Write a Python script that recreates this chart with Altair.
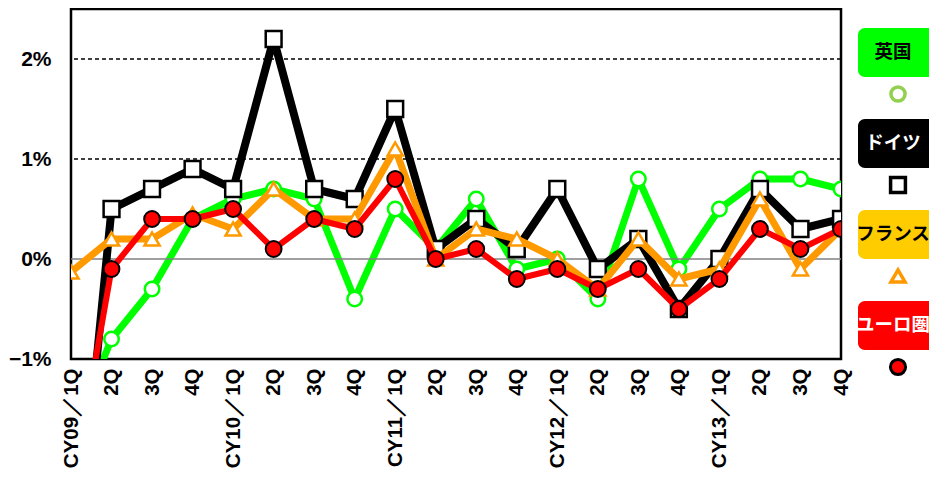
import json
import altair as alt
import pandas as pd

quarters = ["CY09／1Q", "2Q", "3Q", "4Q", "CY10／1Q", "2Q", "3Q", "4Q",
            "CY11／1Q", "2Q", "3Q", "4Q", "CY12／1Q", "2Q", "3Q", "4Q",
            "CY13／1Q", "2Q", "3Q", "4Q"]
uk = [-1.8, -0.8, -0.3, 0.4, 0.6, 0.7, 0.6, -0.4, 0.5, 0.1,
      0.6, -0.1, 0.0, -0.4, 0.8, -0.1, 0.5, 0.8, 0.8, 0.7]
germany = [-3.6, 0.5, 0.7, 0.9, 0.7, 2.2, 0.7, 0.6, 1.5, 0.1,
           0.4, 0.1, 0.7, -0.1, 0.2, -0.5, 0.0, 0.7, 0.3, 0.4]
france = [-0.13, 0.2, 0.2, 0.45, 0.3, 0.7, 0.4, 0.4, 1.1, 0.0,
          0.3, 0.2, 0.0, -0.3, 0.2, -0.2, -0.1, 0.6, -0.1, 0.3]
euro = [-2.4, -0.1, 0.4, 0.4, 0.5, 0.1, 0.4, 0.3, 0.8, 0.0,
        0.1, -0.2, -0.1, -0.3, -0.1, -0.5, -0.2, 0.3, 0.1, 0.3]

series_names = ["英国", "ドイツ", "フランス", "ユーロ圏"]
series_values = [uk, germany, france, euro]
line_colors = ["#00FF00", "#000000", "#FF9900", "#FF0000"]
box_colors = ["#00FF00", "#000000", "#FFCC00", "#FF0000"]
box_text_colors = ["#000000", "#FFFFFF", "#000000", "#FFFFFF"]
y_ticks = [-1, 0, 1, 2]
dashed_grid = [1, 2]
zero_line = [0]

rows = []
for name, vals in zip(series_names, series_values):
    for i, v in enumerate(vals):
        rows.append({"series": name, "idx": i, "value": v})
df = pd.DataFrame(rows)

label_expr = json.dumps(quarters, ensure_ascii=False) + "[datum.value]"
AX_FONT = "Liberation Sans"
x_enc = alt.X("idx:O", scale=alt.Scale(type="point", padding=0),
              axis=alt.Axis(title=None, labelExpr=label_expr, labelAngle=-90,
                            labelPadding=9, ticks=False, domain=False,
                            labelOverlap=False, grid=False, labelFont=AX_FONT,
                            labelFontWeight="bold", labelFontSize=20.5, labelColor="black",
                            labelBound=False, labelFlush=False))
y_scale = alt.Scale(domain=[-1, 2.5], nice=False, zero=False)
y_enc = alt.Y("value:Q", scale=y_scale,
              axis=alt.Axis(title=None, values=y_ticks,
                            labelExpr="(datum.value < 0 ? '−' : '') + abs(datum.value) + '%'",
                            labelPadding=20, ticks=False, domain=False, grid=False,
                            labelFont=AX_FONT, labelFontWeight="bold", labelFontSize=21,
                            labelColor="black", labelBound=False, labelFlush=False))

base = alt.Chart(df)

styles = {
    "英国": dict(lw=7, shape="circle", fill="white", stroke="#00FF00", size=210, sw=2.5),
    "ドイツ": dict(lw=8, shape="square", fill="white", stroke="black", size=250, sw=2.5),
    "フランス": dict(lw=7, shape="triangle-up", fill="white", stroke="#FF9900", size=230, sw=2.5),
    "ユーロ圏": dict(lw=6, shape="circle", fill="#FF0000", stroke="black", size=250, sw=2),
}

layers = []
for name, color in zip(series_names, line_colors):
    s = styles[name]
    d = base.transform_filter(alt.datum.series == name)
    layers.append(d.mark_line(color=color, strokeWidth=s["lw"], clip=True,
                              strokeJoin="bevel").encode(x=x_enc, y=y_enc))
    layers.append(d.mark_point(shape=s["shape"], filled=True, fill=s["fill"],
                               stroke=s["stroke"], strokeWidth=s["sw"], size=s["size"],
                               opacity=1, clip=True).encode(x=x_enc, y=y_enc))

grid_dash = alt.Chart(pd.DataFrame({"value": dashed_grid})).mark_rule(
    color="black", strokeWidth=1.5, strokeDash=[4, 3]).encode(y=y_enc)
grid_zero = alt.Chart(pd.DataFrame({"value": zero_line})).mark_rule(
    color="#808080", strokeWidth=1.5).encode(y=y_enc)
layers = [layers[0], grid_dash, grid_zero] + layers[1:]

# legend at the right of the plot
legend_marker = [
    dict(shape="circle", fill="transparent", stroke="#92D050", size=200, sw=3.5),
    dict(shape="square", fill="white", stroke="black", size=220, sw=3.5),
    dict(shape="triangle-up", fill="white", stroke="#FF9900", size=200, sw=3.5),
    dict(shape="circle", fill="#FF0000", stroke="black", size=230, sw=3),
]
for i, name in enumerate(series_names):
    one = alt.Chart(pd.DataFrame({"name": [name]}))
    top = 19 + i * 91
    layers.append(one.mark_rect(color=box_colors[i], cornerRadius=7).encode(
        x=alt.value(787), x2=alt.value(890), y=alt.value(top), y2=alt.value(top + 49)))
    layers.append(one.mark_text(font="Noto Sans CJK JP", fontWeight="bold", fontSize=18.5,
                                color=box_text_colors[i], align="center", baseline="middle").encode(
        x=alt.value(822), y=alt.value(top + 24), text="name:N"))
    m = legend_marker[i]
    layers.append(one.mark_point(shape=m["shape"], filled=True, fill=m["fill"], stroke=m["stroke"],
                                 strokeWidth=m["sw"], size=m["size"], opacity=1).encode(
        x=alt.value(827), y=alt.value(top + 66)))

chart = alt.layer(*layers).properties(
    width=770, height=350,
    autosize=alt.AutoSizeParams(type="none"),
    padding={"left": 63, "top": 1, "right": 88, "bottom": 112},
    background="white",
).configure_view(stroke="black", strokeWidth=2.5, fill="white")

chart.save("out.html", embed_options={"renderer": "svg", "actions": False})
